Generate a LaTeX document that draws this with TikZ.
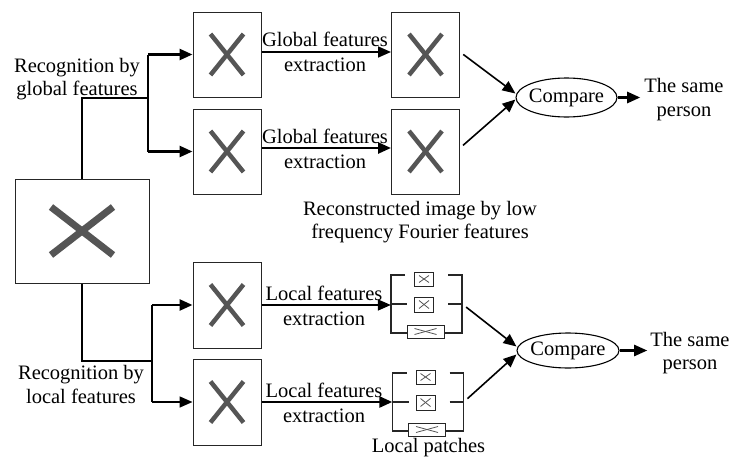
\documentclass[tikz,border=0pt]{standalone}
\usepackage{fontspec}
\setmainfont{Liberation Serif}
\usetikzlibrary{arrows.meta,shapes.geometric}
\definecolor{xgrey}{HTML}{555555}
\tikzset{
  imgbox/.style={draw=black!85, line width=1pt, fill=white, inner sep=0pt},
  patchbox/.style={draw=black!85, line width=0.9pt, inner sep=0pt},
  lbl/.style={font=\rmfamily\fontsize{20.5}{23.5}\selectfont, align=center, inner sep=0pt},
  conn/.style={line width=1.4pt},
  thickconn/.style={line width=2.6pt},
  arr/.style={line width=1.6pt, -{Triangle[length=13pt,width=11pt]}},
  thickarr/.style={line width=2.6pt, -{Triangle[length=13pt,width=11pt]}},
  cmpnode/.style={draw, ellipse, line width=1.1pt, inner xsep=-12pt, inner ysep=0pt, font=\rmfamily\fontsize{20.5}{23.5}\selectfont},
  bracket/.style={line width=1.2pt, black!85},
  xline/.style={xgrey, line width=#1},
}
\newcommand{\bigX}[4]{% node, half-width, half-height, width
  \draw[xline=#4] ([xshift=-#2pt,yshift=#3pt]#1.center) -- ([xshift=#2pt,yshift=-#3pt]#1.center);
  \draw[xline=#4] ([xshift=-#2pt,yshift=-#3pt]#1.center) -- ([xshift=#2pt,yshift=#3pt]#1.center);}
\begin{document}
\begin{tikzpicture}[x=1pt,y=-1pt]
\useasboundingbox (0,0) rectangle (734,466);
% images
\node[imgbox, minimum width=134pt, minimum height=104pt] (big) at (82,231) {};
\bigX{big}{31}{24}{7pt}
\foreach \n/\x/\y/\h in {g1a/227/54.5/85, g1b/227/151.5/85, g2a/425.5/54.5/85, g2b/425.5/151.5/85, l1a/227/305/86, l1b/227/402/86}{
  \node[imgbox, minimum width=68pt, minimum height=\h pt] (\n) at (\x,\y) {};
  \bigX{\n}{16.5}{20.5}{4.5pt}
}
% left labels
\node[lbl] (rg) at (77,79) {Recognition by\\global features};
\node[lbl] (rl) at (81,384.5) {Recognition by\\local features};
% branching connectors
\coordinate (j1) at (148,98);
\coordinate (j2) at (152,361);
\draw[conn] (big.north) |- (j1);
\draw[thickconn] (j1 |- g1a.west) -- (j1 |- g1b.west);
\draw[thickarr] (j1 |- g1a.west) -- (g1a.west);
\draw[thickarr] (j1 |- g1b.west) -- (g1b.west);
\draw[conn] (big.south) |- (j2);
\draw[line width=2pt] (j2 |- l1a.west) -- (j2 |- l1b.west);
\draw[thickarr] (j2 |- l1a.west) -- (l1a.west);
\draw[arr] (j2 |- l1b.west) -- (l1b.west);
% global extraction
\draw[arr] (g1a.east |- 0,52) -- (g2a.west |- 0,52);
\draw[thickarr] (g1b.east |- 0,148) -- (g2b.west |- 0,148);
\node[lbl] (ge1) at (325,39) {Global features};
\node[lbl] (ex1) at (325,65) {extraction};
\node[lbl] (ge2) at (325,136) {Global features};
\node[lbl] (ex2) at (325,162) {extraction};
\node[lbl] (rec) at (420,222) {Reconstructed image by low\\frequency Fourier features};
% compare top
\node[cmpnode, minimum width=101pt, minimum height=39pt] (cmp1) at (566.5,97.5) {Compare};
\draw[arr, shorten <=4pt] (g2a.east |- 0,52) -- ([yshift=4pt]cmp1.west);
\draw[arr, shorten <=4pt] (g2b.east |- 0,148) -- ([yshift=-2pt]cmp1.west);
\node[lbl] (sp1) at (684,99.5) {The same\\person};
\draw[thickarr] (cmp1.east) -- ([xshift=-4pt]sp1.west |- cmp1.east);
% local patch groups
\foreach \g/\dy/\dx in {p1/0/0, p2/98/1.5}{
  \begin{scope}[shift={(\dx,\dy)}]
    \node[patchbox, minimum width=19pt, minimum height=14pt] (\g a) at (424,279) {};
    \node[patchbox, minimum width=19pt, minimum height=15pt] (\g b) at (424,304.5) {};
    \node[patchbox, minimum width=37pt, minimum height=13pt] (\g c) at (425.5,331.5) {};
    \node[minimum width=71pt, minimum height=58pt, inner sep=0pt] (\g grp) at (426.5,304) {};
    \draw[bracket] (405,275) -- (391,275) -- (391,333) -- (\g c.west |- 0,333);
    \draw[bracket] (391,304) -- (407,304);
    \draw[bracket] (448,275) -- (462,275) -- (462,333) -- (\g c.east |- 0,333);
    \draw[bracket] (448,304) -- (462,304);
    \draw[xgrey, line width=0.8pt] ([shift={(-5,-3.5)}]\g a.center) -- ([shift={(5,3.5)}]\g a.center);
    \draw[xgrey, line width=0.8pt] ([shift={(-5,3.5)}]\g a.center) -- ([shift={(5,-3.5)}]\g a.center);
    \draw[xgrey, line width=0.8pt] ([shift={(-5,-4)}]\g b.center) -- ([shift={(5,4)}]\g b.center);
    \draw[xgrey, line width=0.8pt] ([shift={(-5,4)}]\g b.center) -- ([shift={(5,-4)}]\g b.center);
    \draw[xgrey, line width=0.8pt] ([shift={(-11,-3)}]\g c.center) -- ([shift={(11,3)}]\g c.center);
    \draw[xgrey, line width=0.8pt] ([shift={(-11,3)}]\g c.center) -- ([shift={(11,-3)}]\g c.center);
  \end{scope}
}
\draw[arr] (l1a.east |- 0,305) -- (p1grp.west |- 0,305);
\draw[thickarr] (l1b.east |- 0,402) -- (p2grp.west |- 0,402);
\node[lbl] (le1) at (324,293.5) {Local features};
\node[lbl] (ex3) at (324,319) {extraction};
\node[lbl] (le2) at (324,390.5) {Local features};
\node[lbl] (ex4) at (324,416) {extraction};
\node[lbl] (lp) at (428.5,448) {Local patches};
% compare bottom
\node[cmpnode, minimum width=102pt, minimum height=35pt] (cmp2) at (568,350.5) {Compare};
\draw[arr, shorten <=5pt] (p1grp.east) -- ([yshift=4pt]cmp2.west);
\draw[arr, shorten <=5pt] (p2grp.east) -- ([yshift=-4pt]cmp2.west);
\node[lbl] (sp2) at (690,353) {The same\\person};
\draw[arr, line width=2.2pt] (cmp2.east) -- ([xshift=-3pt]sp2.west |- cmp2.east);
\end{tikzpicture}
\end{document}
